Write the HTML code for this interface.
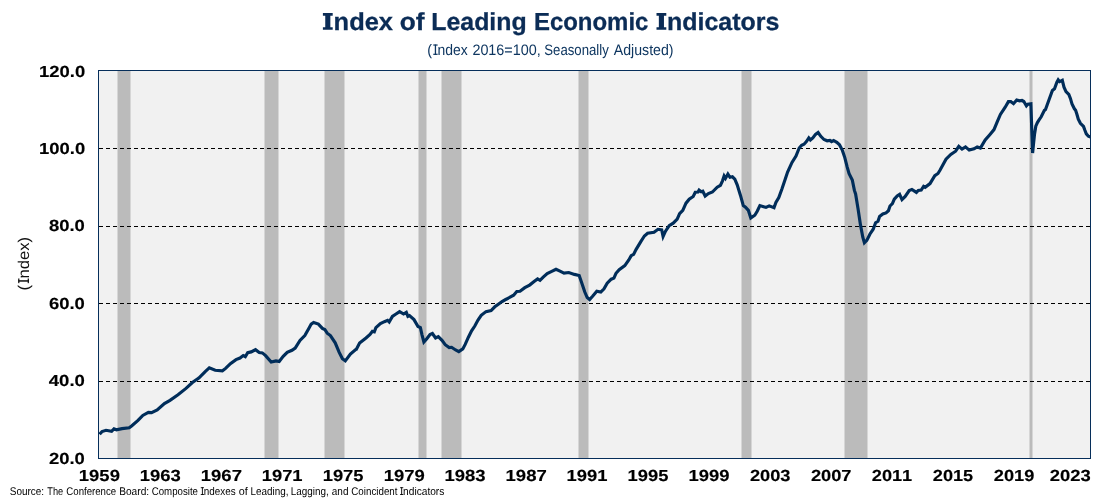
<!DOCTYPE html>
<html><head><meta charset="utf-8"><title>Index of Leading Economic Indicators</title>
<style>
html,body{margin:0;padding:0;background:#fff;}
body{width:1100px;height:500px;overflow:hidden;font-family:"Liberation Sans",sans-serif;}
svg{display:block}
text{font-family:"Liberation Sans",sans-serif;font-kerning:none;text-rendering:geometricPrecision;}
</style></head><body>
<svg style="will-change:transform" width="1100" height="500" viewBox="0 0 1100 500">
<rect width="1100" height="500" fill="#ffffff"/>
<rect x="98.5" y="70.5" width="992" height="388" fill="#f1f1f1"/>
<rect x="117.5" y="71" width="13.0" height="387" fill="#bbbbbb"/><rect x="264.5" y="71" width="14.0" height="387" fill="#bbbbbb"/><rect x="324.5" y="71" width="20.0" height="387" fill="#bbbbbb"/><rect x="418.5" y="71" width="8.0" height="387" fill="#bbbbbb"/><rect x="441.5" y="71" width="20.0" height="387" fill="#bbbbbb"/><rect x="578.5" y="71" width="10.0" height="387" fill="#bbbbbb"/><rect x="741.5" y="71" width="10.0" height="387" fill="#bbbbbb"/><rect x="844.5" y="71" width="23.0" height="387" fill="#bbbbbb"/><rect x="1029.5" y="71" width="3.0" height="387" fill="#bbbbbb"/>
<line x1="99" x2="1090" y1="148.5" y2="148.5" stroke="#000" stroke-width="1" stroke-dasharray="4 3" shape-rendering="crispEdges"/><line x1="99" x2="1090" y1="226.5" y2="226.5" stroke="#000" stroke-width="1" stroke-dasharray="4 3" shape-rendering="crispEdges"/><line x1="99" x2="1090" y1="303.5" y2="303.5" stroke="#000" stroke-width="1" stroke-dasharray="4 3" shape-rendering="crispEdges"/><line x1="99" x2="1090" y1="381.5" y2="381.5" stroke="#000" stroke-width="1" stroke-dasharray="4 3" shape-rendering="crispEdges"/>
<path d="M99.6,434.2 L102.0,431.6 L106.0,430.3 L111.6,431.3 L114.0,428.9 L116.4,429.8 L122.0,428.6 L129.2,427.8 L131.6,426.0 L138.0,420.4 L142.8,415.4 L148.4,412.4 L151.6,412.6 L157.2,410.0 L164.4,403.6 L170.0,400.4 L178.0,394.8 L186.0,388.4 L192.4,382.5 L198.8,378.0 L205.2,371.6 L209.3,367.9 L215.2,370.3 L222.4,370.8 L225.6,368.4 L230.4,363.6 L236.0,359.6 L240.0,358.0 L243.2,355.6 L245.3,356.7 L247.7,352.6 L251.2,351.9 L255.5,349.7 L259.2,352.6 L262.4,352.9 L265.6,355.6 L271.2,362.0 L276.0,360.9 L279.2,361.5 L283.2,356.4 L287.2,352.4 L292.0,350.3 L295.2,348.1 L300.0,340.4 L304.8,335.6 L308.8,328.4 L311.2,324.1 L313.6,322.5 L318.4,324.1 L322.4,328.4 L324.8,329.5 L327.2,333.2 L330.4,335.6 L335.2,342.8 L339.2,352.4 L342.4,358.8 L345.3,360.9 L350.4,354.0 L356.0,349.2 L356.4,349.2 L359.6,343.1 L366.0,338.0 L370.0,334.5 L372.4,331.3 L374.3,331.9 L375.9,327.6 L380.4,323.6 L384.4,321.7 L387.6,320.4 L389.2,322.0 L392.4,316.4 L395.6,314.3 L399.6,311.6 L403.6,314.0 L406.3,312.4 L407.9,316.4 L409.5,315.6 L414.0,319.6 L418.0,326.5 L420.4,327.6 L422.0,334.8 L423.9,342.0 L426.8,338.8 L430.0,334.5 L432.4,333.5 L435.6,338.0 L438.3,336.7 L442.0,340.4 L445.2,344.7 L449.2,347.6 L451.6,347.3 L455.6,350.0 L458.8,351.6 L462.8,348.9 L465.2,344.4 L468.4,337.2 L471.6,330.8 L474.8,326.0 L478.0,320.1 L481.2,315.3 L486.0,311.6 L491.1,310.5 L494.8,306.8 L498.0,304.4 L502.0,301.5 L506.0,299.3 L506.4,299.2 L513.6,295.2 L516.8,291.5 L520.0,291.2 L524.8,287.7 L529.6,285.1 L534.4,281.3 L537.6,278.9 L540.0,280.3 L543.2,277.1 L547.2,273.6 L551.2,271.7 L556.0,269.3 L560.0,271.2 L564.0,273.1 L568.8,272.5 L574.4,274.4 L579.2,275.5 L581.6,282.4 L584.8,292.0 L587.2,297.6 L589.6,299.5 L592.8,296.0 L596.8,291.2 L600.8,292.0 L604.0,288.8 L607.2,283.2 L611.2,279.2 L613.9,278.1 L616.0,273.3 L619.2,269.6 L624.8,265.6 L628.8,260.0 L631.2,255.7 L633.6,254.4 L636.0,249.6 L640.8,241.6 L644.4,236.0 L647.6,233.3 L654.0,232.3 L658.0,229.3 L661.7,229.9 L663.1,236.5 L665.5,231.2 L669.2,225.6 L673.2,223.2 L677.2,219.2 L679.6,213.6 L682.8,210.4 L686.0,203.2 L689.2,199.2 L693.2,196.5 L695.3,192.3 L698.0,192.0 L699.1,190.1 L701.2,191.7 L702.8,191.2 L705.2,196.0 L708.4,193.6 L712.4,192.0 L717.2,187.2 L720.4,185.3 L722.5,180.8 L724.1,176.0 L725.5,178.4 L727.9,174.1 L730.0,177.3 L732.4,176.8 L734.8,179.2 L737.2,184.8 L740.4,195.2 L743.3,205.6 L745.5,207.2 L748.4,210.4 L750.8,217.9 L754.8,215.2 L757.2,211.2 L759.9,205.6 L763.6,206.7 L766.0,207.4 L769.2,205.9 L774.0,207.7 L775.9,202.4 L778.8,197.6 L782.0,188.8 L785.2,179.2 L787.6,172.0 L792.0,162.4 L796.0,156.0 L799.2,148.0 L801.6,145.3 L804.0,144.3 L806.4,141.6 L808.8,137.9 L810.4,140.0 L812.8,137.9 L815.5,134.4 L818.1,132.5 L820.8,136.3 L824.0,139.5 L827.2,140.8 L829.9,140.5 L831.5,141.6 L833.6,140.5 L836.8,142.4 L839.5,144.8 L842.4,150.4 L844.8,157.6 L847.2,167.2 L849.1,173.6 L852.3,180.0 L854.4,190.4 L855.6,194.0 L858.0,208.4 L860.4,224.4 L862.8,237.2 L864.4,242.8 L866.8,240.4 L870.0,234.0 L873.2,229.2 L875.6,222.8 L878.0,221.2 L879.6,216.4 L882.8,214.0 L886.0,212.9 L888.4,210.8 L890.0,206.0 L892.4,203.6 L894.3,199.1 L897.2,195.9 L899.6,194.3 L902.0,199.6 L905.2,196.4 L909.2,190.5 L911.9,189.5 L916.4,192.4 L918.3,190.5 L921.2,190.0 L923.6,186.3 L925.2,187.3 L930.0,183.6 L934.8,175.6 L938.0,173.5 L940.1,170.0 L946.0,159.2 L950.8,154.4 L955.6,151.2 L958.8,146.4 L962.0,149.1 L965.5,146.9 L969.2,150.1 L974.0,148.8 L977.2,146.9 L980.4,148.0 L985.2,140.0 L990.0,134.4 L994.0,129.6 L997.2,121.9 L1000.4,114.4 L1005.2,107.2 L1008.4,101.6 L1010.8,101.6 L1013.5,103.7 L1016.7,100.0 L1019.6,100.8 L1022.0,100.5 L1023.8,101.5 L1025.2,103.8 L1026.4,105.9 L1027.8,104.3 L1030.9,103.9 L1031.7,128.0 L1032.6,153.0 L1033.6,143.0 L1034.5,134.5 L1035.8,126.2 L1037.4,122.6 L1038.9,120.2 L1041.2,116.8 L1044.4,110.4 L1045.5,109.6 L1049.2,99.2 L1052.4,90.4 L1054.5,88.8 L1056.9,82.1 L1058.2,79.8 L1059.6,81.6 L1062.3,80.3 L1064.0,87.2 L1066.0,91.6 L1068.8,94.4 L1070.4,98.4 L1072.0,104.0 L1074.4,108.8 L1075.6,110.3 L1076.9,114.2 L1078.3,119.1 L1080.4,123.3 L1083.5,126.4 L1084.9,130.3 L1086.3,133.8 L1088.4,136.2 L1090.3,136.9" fill="none" stroke="#002d5a" stroke-width="3.15" stroke-linejoin="miter" stroke-miterlimit="3.5" stroke-linecap="butt"/>
<rect x="98.5" y="70.5" width="992" height="388" fill="none" stroke="#062e5a" stroke-width="1"/>
<g font-weight="bold" font-size="24.6" fill="#0b2c56" stroke="#0b2c56" stroke-width="0.3"><g transform="translate(333.62,29.8) scale(1.0339,1)"><text>ndex</text></g><g transform="translate(399.77,29.8) scale(1.0670,1)"><text>of</text></g><g transform="translate(431.34,29.8) scale(1.0108,1)"><text>Leading</text></g><g transform="translate(533.90,29.8) scale(0.9740,1)"><text>Economic</text></g><g transform="translate(667.05,29.8) scale(1.0149,1)"><text>ndicators</text></g><path stroke="none" d="M322.9,12.9h9.8v2.8h-2.35v11.5h2.35v2.6h-9.8v-2.6h2.35v-11.5h-2.35z"/><path stroke="none" d="M656.5,12.9h9.8v2.8h-2.35v11.5h2.35v2.6h-9.8v-2.6h2.35v-11.5h-2.35z"/></g>
<g font-size="15.2" fill="#0e3660"><g transform="translate(427.31,54.9) scale(0.9429,1)"><text>(</text></g><g transform="translate(433.51,54.9) scale(0.9181,1)"><text>Index</text><rect x="-0.25" y="-10.46" width="4.73" height="1.19" stroke="none"/><rect x="-0.25" y="-1.19" width="4.73" height="1.19" stroke="none"/></g><g transform="translate(472.38,54.9) scale(0.9466,1)"><text>2016=100,</text></g><g transform="translate(544.30,54.9) scale(0.8677,1)"><text>Seasonally</text></g><g transform="translate(613.77,54.9) scale(0.9313,1)"><text>Adjusted)</text></g></g>
<g font-weight="bold" font-size="16" fill="#000" stroke="#000" stroke-width="0.15"><g transform="translate(48.96,464.1) scale(1.1494,1)"><text>20.0</text></g><g transform="translate(48.82,386.3) scale(1.1573,1)"><text>40.0</text></g><g transform="translate(49.03,308.8) scale(1.1506,1)"><text>60.0</text></g><g transform="translate(49.02,231.3) scale(1.1509,1)"><text>80.0</text></g><g transform="translate(39.04,154.3) scale(1.1518,1)"><text>100.0</text></g><g transform="translate(39.04,76.8) scale(1.1518,1)"><text>120.0</text></g><g transform="translate(78.84,481.3) scale(1.1532,1)"><text>1959</text></g><g transform="translate(139.80,481.3) scale(1.1527,1)"><text>1963</text></g><g transform="translate(200.75,481.3) scale(1.1569,1)"><text>1967</text></g><g transform="translate(261.72,481.3) scale(1.1482,1)"><text>1971</text></g><g transform="translate(322.68,481.3) scale(1.1482,1)"><text>1975</text></g><g transform="translate(383.64,481.3) scale(1.1532,1)"><text>1979</text></g><g transform="translate(444.60,481.3) scale(1.1527,1)"><text>1983</text></g><g transform="translate(505.55,481.3) scale(1.1569,1)"><text>1987</text></g><g transform="translate(566.52,481.3) scale(1.1482,1)"><text>1991</text></g><g transform="translate(627.48,481.3) scale(1.1482,1)"><text>1995</text></g><g transform="translate(688.44,481.3) scale(1.1532,1)"><text>1999</text></g><g transform="translate(749.93,481.3) scale(1.1375,1)"><text>2003</text></g><g transform="translate(810.89,481.3) scale(1.1417,1)"><text>2007</text></g><g transform="translate(871.85,481.3) scale(1.1332,1)"><text>2011</text></g><g transform="translate(932.81,481.3) scale(1.1332,1)"><text>2015</text></g><g transform="translate(993.77,481.3) scale(1.1380,1)"><text>2019</text></g><g transform="translate(1049.76,481.3) scale(1.1491,1)"><text>2023</text></g></g>
<g font-size="15.6" fill="#111"><g transform="translate(28.9,289.4) rotate(-90) translate(-1.03,0) scale(1.0638,1)"><text>(</text></g><g transform="translate(28.9,289.4) rotate(-90) translate(6.27,0) scale(1.0647,1)"><text>Index)</text><rect x="-0.03" y="-10.73" width="4.39" height="1.22" stroke="none"/><rect x="-0.03" y="-1.22" width="4.39" height="1.22" stroke="none"/></g></g>
<g font-size="11.2" fill="#000"><g transform="translate(9.75,495.0) scale(0.8903,1)"><text>Source:</text></g><g transform="translate(47.29,495.0) scale(0.8248,1)"><text>The</text></g><g transform="translate(66.31,495.0) scale(0.8621,1)"><text>Conference</text></g><g transform="translate(119.17,495.0) scale(0.9080,1)"><text>Board:</text></g><g transform="translate(151.71,495.0) scale(0.8653,1)"><text>Composite</text></g><g transform="translate(200.99,495.0) scale(0.8839,1)"><text>Indexes</text><rect x="-0.23" y="-7.71" width="3.58" height="0.87" stroke="none"/><rect x="-0.23" y="-0.87" width="3.58" height="0.87" stroke="none"/></g><g transform="translate(238.64,495.0) scale(0.9677,1)"><text>of</text></g><g transform="translate(250.49,495.0) scale(0.8843,1)"><text>Leading,</text></g><g transform="translate(290.69,495.0) scale(0.8843,1)"><text>Lagging,</text></g><g transform="translate(331.78,495.0) scale(0.8920,1)"><text>and</text></g><g transform="translate(351.30,495.0) scale(0.8743,1)"><text>Coincident</text></g><g transform="translate(400.26,495.0) scale(0.9083,1)"><text>Indicators</text><rect x="-0.20" y="-7.71" width="3.51" height="0.87" stroke="none"/><rect x="-0.20" y="-0.87" width="3.51" height="0.87" stroke="none"/></g></g>
</svg>
</body></html>
